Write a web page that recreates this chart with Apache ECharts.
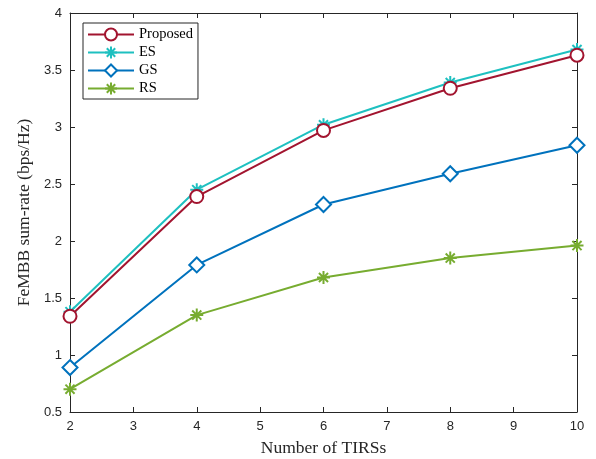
<!DOCTYPE html>
<html>
<head>
<meta charset="utf-8">
<script src="https://cdn.jsdelivr.net/npm/echarts@6/dist/echarts.min.js"></script>
<style>
html,body{margin:0;padding:0;background:#fff;}
#chart{width:596px;height:459px;}
</style>
</head>
<body>
<div id="chart"></div>
<script>
// Number of TIRSs on the horizontal axis
const tirs = [2, 4, 6, 8, 10];

// FeMBB sum-rate (bps/Hz) per scheme
const proposed = [1.34, 2.39, 2.97, 3.34, 3.63];
const es       = [1.38, 2.45, 3.02, 3.39, 3.68];
const gs       = [0.89, 1.79, 2.32, 2.59, 2.84];
const rs       = [0.70, 1.35, 1.68, 1.85, 1.96];

const seriesNames = ['Proposed', 'ES', 'GS', 'RS'];

const asterisk = 'path://M10,0 L10,20 M0,10 L20,10 M3,3 L17,17 M3,17 L17,3';

const colors = ['#A2142F', '#1EC0C0', '#0072BD', '#77AC30'];
const symbols = ['circle', asterisk, 'diamond', asterisk];
const sizes = [13, 13, 15, 13];
const values = [proposed, es, gs, rs];

const axisColor = '#262626';
const serif = '"Liberation Serif", "DejaVu Serif", serif';
const sans = '"Liberation Sans", Arial, sans-serif';

function pairs(arr) { return tirs.map((x, i) => [x, arr[i]]); }

const series = seriesNames.map((name, k) => ({
  name: name,
  type: 'line',
  data: pairs(values[k]),
  symbol: symbols[k],
  symbolSize: sizes[k],
  showAllSymbol: true,
  lineStyle: { color: colors[k], width: 2 },
  itemStyle: { color: k === 1 || k === 3 ? colors[k] : '#fff', borderColor: colors[k], borderWidth: 2 },
  emphasis: { disabled: true },
  animation: false,
  z: 10 - k
}));

const chart = echarts.init(document.getElementById('chart'), null, { renderer: 'canvas' });
chart.setOption({
  backgroundColor: '#fff',
  animation: false,
  grid: { left: 70, right: 19, top: 13, bottom: 47, containLabel: false, outerBoundsMode: 'none' },
  legend: {
    orient: 'vertical',
    left: 83,
    top: 23,
    data: seriesNames,
    backgroundColor: '#fff',
    borderColor: axisColor,
    borderWidth: 1,
    padding: [4, 5, 3, 4],
    itemGap: 3,
    itemHeight: 15,
    itemWidth: 46,
    textStyle: { fontFamily: serif, fontSize: 14.5, lineHeight: 14, color: '#000' }
  },
  xAxis: [{
    type: 'value',
    min: 2, max: 10, interval: 1,
    name: 'Number of TIRSs',
    nameLocation: 'middle',
    nameGap: 27,
    nameTextStyle: { fontFamily: serif, fontSize: 17.5, color: axisColor },
    axisLine: { lineStyle: { color: axisColor, width: 1 } },
    axisTick: { inside: true, length: 5, lineStyle: { color: axisColor } },
    axisLabel: { fontFamily: sans, fontSize: 13, color: axisColor, margin: 8 },
    splitLine: { show: false }
  }, {
    type: 'value', position: 'top',
    min: 2, max: 10, interval: 1,
    axisLine: { show: true, lineStyle: { color: axisColor, width: 1 } },
    axisTick: { inside: true, length: 5, lineStyle: { color: axisColor } },
    axisLabel: { show: false },
    splitLine: { show: false }
  }],
  yAxis: [{
    type: 'value',
    min: 0.5, max: 4, interval: 0.5,
    name: 'FeMBB sum-rate (bps/Hz)',
    nameLocation: 'middle',
    nameGap: 31,
    nameTextStyle: { fontFamily: serif, fontSize: 17.5, color: axisColor },
    axisLine: { show: true, lineStyle: { color: axisColor, width: 1 } },
    axisTick: { inside: true, length: 5, lineStyle: { color: axisColor } },
    axisLabel: { fontFamily: sans, fontSize: 13, color: axisColor, margin: 8 },
    splitLine: { show: false }
  }, {
    type: 'value', position: 'right',
    min: 0.5, max: 4, interval: 0.5,
    axisLine: { show: true, lineStyle: { color: axisColor, width: 1 } },
    axisTick: { inside: true, length: 5, lineStyle: { color: axisColor } },
    axisLabel: { show: false },
    splitLine: { show: false }
  }],
  series: series
});
</script>
</body>
</html>
